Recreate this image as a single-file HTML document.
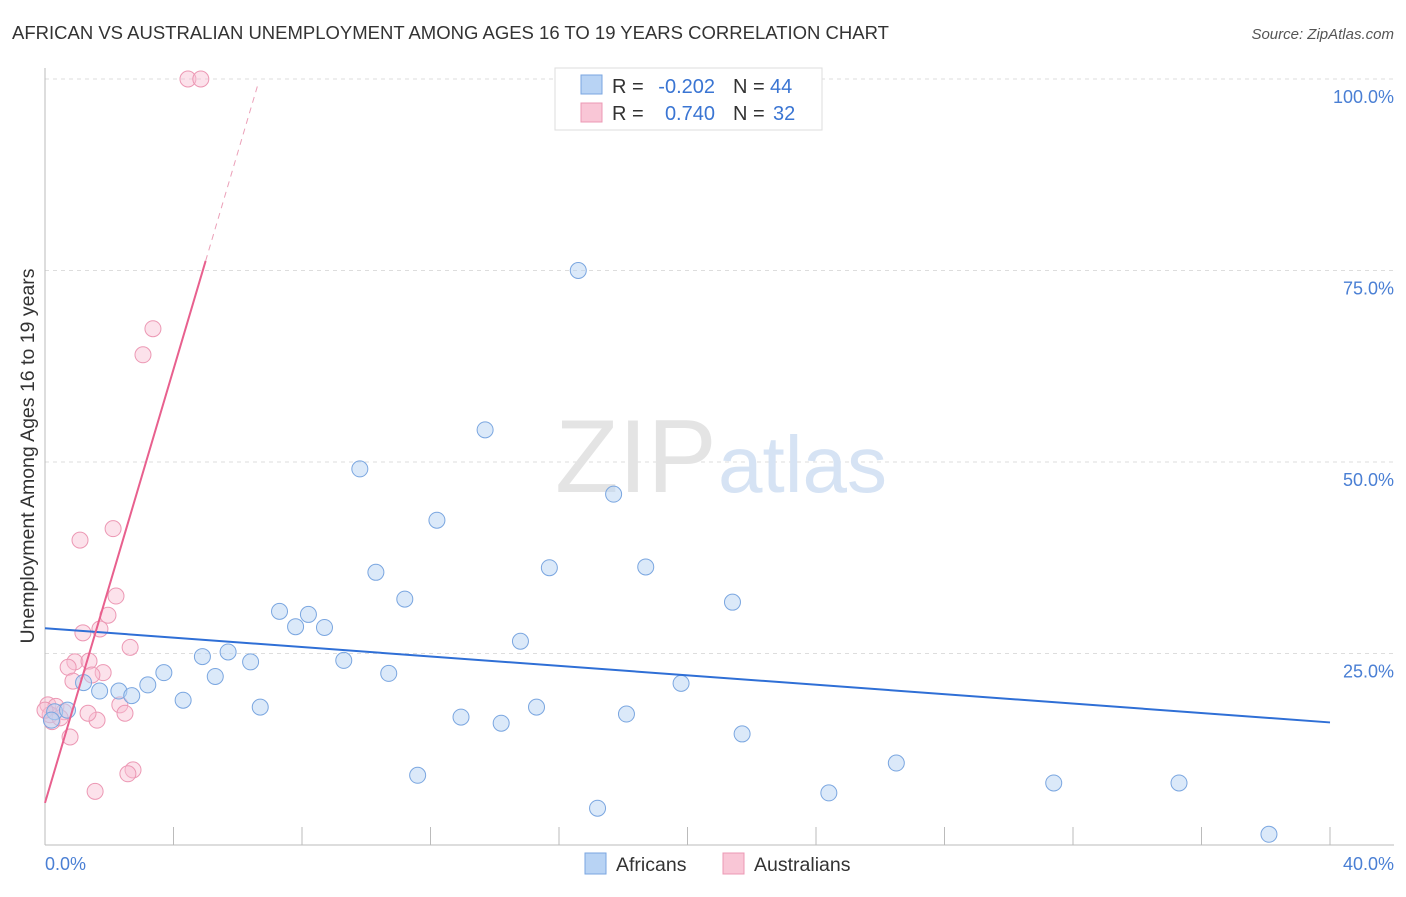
<!DOCTYPE html>
<html><head><meta charset="utf-8"><style>
body{margin:0;background:#fff;font-family:"Liberation Sans",sans-serif;}
svg text{font-family:"Liberation Sans",sans-serif;}
</style></head><body>
<svg width="1406" height="892">
<text x="12" y="39" font-size="18.5" fill="#333">AFRICAN VS AUSTRALIAN UNEMPLOYMENT AMONG AGES 16 TO 19 YEARS CORRELATION CHART</text>
<text x="1394" y="39" font-size="15" fill="#555" text-anchor="end" font-style="italic">Source: ZipAtlas.com</text>
<g id="grid"></g>
<text x="555" y="492" font-size="104" fill="#e4e4e4" font-family="Liberation Serif">ZIP</text>
<text x="718" y="492" font-size="80" fill="#d6e3f4">atlas</text>
<line x1="45" y1="68" x2="45" y2="845" stroke="#bbb"/>
<line x1="45" y1="845" x2="1394" y2="845" stroke="#bbb"/>
<g id="xticks"></g>
<text x="45" y="870" font-size="18" fill="#4a7fd4">0.0%</text>
<text x="1394" y="870" font-size="18" fill="#4a7fd4" text-anchor="end">40.0%</text>
<text transform="translate(34,456) rotate(-90)" font-size="19.5" fill="#333" text-anchor="middle">Unemployment Among Ages 16 to 19 years</text>
<g id="marks"></g>
<g>
<rect x="555" y="68" width="267" height="62" fill="#fff" stroke="#ddd"/>
<rect x="581" y="75" width="21" height="19" fill="#b8d3f4" stroke="#7aa6e0"/>
<rect x="581" y="103" width="21" height="19" fill="#f9c6d6" stroke="#ec98b4"/>
<text x="612" y="93" font-size="20" fill="#333">R =</text>
<text x="715" y="93" font-size="20" fill="#3a75d3" text-anchor="end">-0.202</text>
<text x="733" y="93" font-size="20" fill="#333">N =</text>
<text x="770" y="93" font-size="20" fill="#3a75d3">44</text>
<text x="612" y="120" font-size="20" fill="#333">R =</text>
<text x="715" y="120" font-size="20" fill="#3a75d3" text-anchor="end">0.740</text>
<text x="733" y="120" font-size="20" fill="#333">N =</text>
<text x="773" y="120" font-size="20" fill="#3a75d3">32</text>
</g>
<g>
<rect x="585" y="853" width="21" height="21" fill="#b8d3f4" stroke="#7aa6e0"/>
<text x="616" y="871" font-size="19.5" fill="#333">Africans</text>
<rect x="723" y="853" width="21" height="21" fill="#f9c6d6" stroke="#ec98b4"/>
<text x="754" y="871" font-size="19.5" fill="#333">Australians</text>
</g>
</svg>
<script>
const yTicks=[25,50,75,100];
const yTickLabels=["25.0%","50.0%","75.0%","100.0%"];
const africansX=[16.6,13.7,9.8,17.7,12.2,15.7,18.7,10.3,11.2,7.3,8.2,8.7,7.8,21.4,14.8,5.7,4.9,6.4,9.3,3.7,10.7,5.3,19.8,3.2,1.2,2.3,2.7,1.7,4.3,6.7,15.3,18.1,12.95,14.2,21.7,26.5,11.6,24.4,31.4,35.3,17.2,38.1,0.3,0.7,0.2];
const africansY=[75.0,54.2,49.1,45.8,42.4,36.2,36.3,35.6,32.1,30.5,30.1,28.4,28.5,31.7,26.6,25.2,24.6,23.9,24.1,22.5,22.4,22.0,21.1,20.9,21.2,20.1,19.5,20.1,18.9,18.0,18.0,17.1,16.7,15.9,14.5,10.7,9.1,6.8,8.1,8.1,4.8,1.4,17.4,17.6,16.3];
const australiansX=[4.45,4.85,3.36,3.05,2.12,1.09,2.21,1.96,1.18,1.71,2.65,0.93,1.37,1.81,0.72,1.46,0.87,2.33,2.49,1.62,0.09,0.34,0.59,0.22,0.78,2.74,2.58,1.56,0.16,0.47,0.0,1.34];
const australiansY=[100,100,67.4,64.0,41.3,39.8,32.5,30.0,27.7,28.2,25.8,23.9,24.0,22.5,23.2,22.2,21.4,18.3,17.2,16.3,18.3,18.1,17.4,16.1,14.1,9.8,9.3,7.0,17.0,16.6,17.6,17.2];
const blueFit=[28.3,16.0];
const pinkFit={intercept:5.5,slope:14.15,solidEnd:5.0,dashEnd:6.65};
const X=v=>45+v*32.125, Y=v=>845-v*7.66;
const NS="http://www.w3.org/2000/svg";
function mk(tag,attrs,parent){const e=document.createElementNS(NS,tag);for(const k in attrs)e.setAttribute(k,attrs[k]);document.getElementById(parent).appendChild(e);return e;}
yTicks.forEach((t,i)=>{
 const l=mk('line',{x1:45,x2:1394,y1:Y(t),y2:Y(t),stroke:'#ddd','stroke-dasharray':'4,4'},'grid');
 
 
 const tx=mk('text',{x:1394,y:Y(t)+24,'font-size':18,fill:'#4a7fd4','text-anchor':'end'},'grid');
 tx.textContent=yTickLabels[i];
 
 
});
for(let i=1;i<=10;i++){
 const l=mk('line',{x1:X(i*4),x2:X(i*4),y1:827,y2:845,stroke:'#bbb'},'xticks');
 
 
}
australiansX.forEach((x,i)=>{
 const c=mk('circle',{cx:X(x),cy:Y(australiansY[i]),r:8,fill:'rgba(249,190,210,0.45)',stroke:'#ec98b4','stroke-width':1},'marks');
 
 
});
africansX.forEach((x,i)=>{
 const c=mk('circle',{cx:X(x),cy:Y(africansY[i]),r:8,fill:'rgba(184,211,244,0.5)',stroke:'#7aa6e0','stroke-width':1},'marks');
 
 
});
const bl=mk('line',{x1:X(0),y1:Y(blueFit[0]),x2:X(40),y2:Y(blueFit[1]),stroke:'#2f6fd6','stroke-width':2},'marks');


const pf=x=>pinkFit.intercept+pinkFit.slope*x;
const pl=mk('line',{x1:X(0),y1:Y(pf(0)),x2:X(pinkFit.solidEnd),y2:Y(pf(pinkFit.solidEnd)),stroke:'#e8608e','stroke-width':2},'marks');


const pd=mk('line',{x1:X(pinkFit.solidEnd),y1:Y(pf(pinkFit.solidEnd)),x2:X(pinkFit.dashEnd),y2:Y(pf(pinkFit.dashEnd)),stroke:'#eba0b8','stroke-width':1,'stroke-dasharray':'6,5'},'marks');


</script>
</body></html>
